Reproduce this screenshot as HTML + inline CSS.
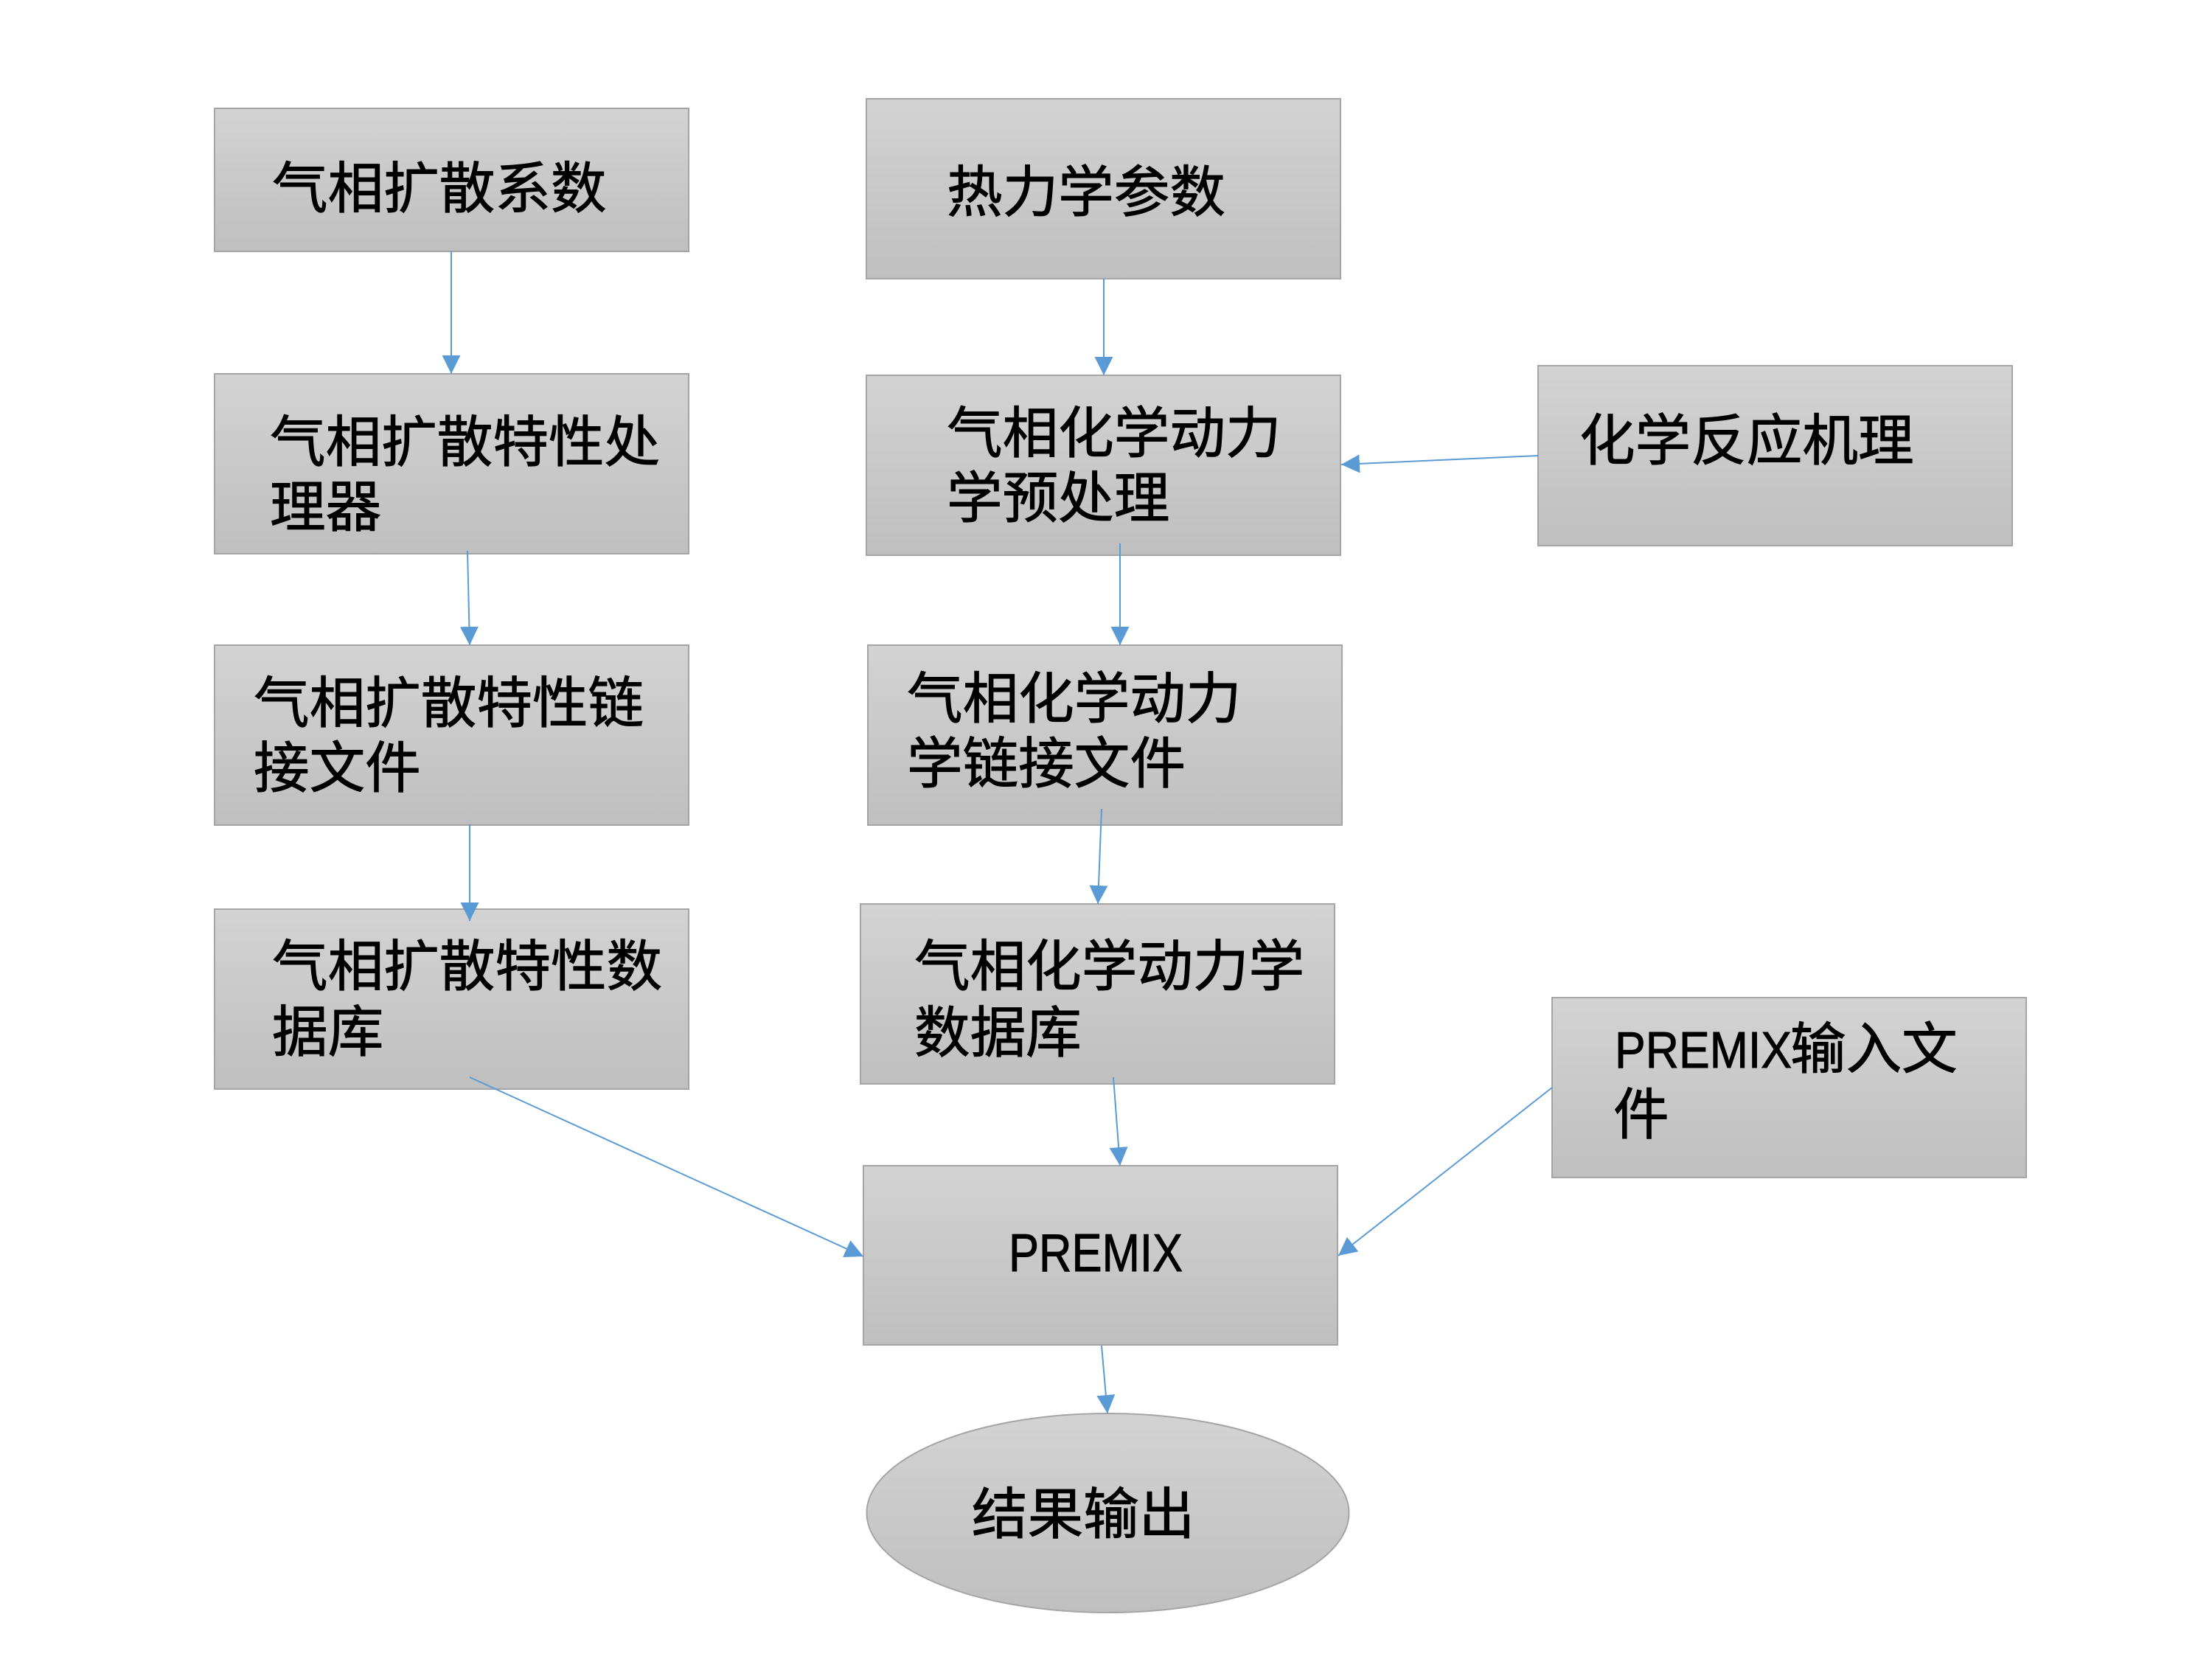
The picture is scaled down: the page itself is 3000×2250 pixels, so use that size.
<!DOCTYPE html>
<html lang="zh"><head><meta charset="utf-8"><style>
html,body{margin:0;padding:0;background:#fff}
svg{display:block}
text{font-family:"Liberation Sans","Noto Sans CJK SC",sans-serif;font-size:75.6px;fill:#000;stroke:#000;stroke-width:1}
.s{fill:url(#g);stroke:#a5a5a5;stroke-width:2}
.l{stroke:#5b9bd5;stroke-width:2;fill:none;marker-end:url(#a)}
</style></head><body>
<svg xmlns="http://www.w3.org/2000/svg" width="3000" height="2250" viewBox="0 0 3000 2250">
<defs>
<linearGradient id="g" x1="0" y1="0" x2="0" y2="1"><stop offset="0" stop-color="#d3d3d3"/><stop offset="1" stop-color="#bfbfbf"/></linearGradient>
<marker id="a" markerUnits="userSpaceOnUse" markerWidth="26" markerHeight="26" refX="25" refY="12.5" orient="auto"><path d="M0 0L25 12.5L0 25Z" fill="#5b9bd5"/></marker>
</defs>
<rect width="3000" height="2250" fill="#fff"/>
<rect class="s" x="291" y="147" width="643" height="194"/>
<rect class="s" x="1175" y="134" width="643" height="244"/>
<rect class="s" x="291" y="507" width="643" height="244"/>
<rect class="s" x="1175" y="509" width="643" height="244"/>
<rect class="s" x="2086" y="496" width="643" height="244"/>
<rect class="s" x="291" y="875" width="643" height="244"/>
<rect class="s" x="1177" y="875" width="643" height="244"/>
<rect class="s" x="291" y="1233" width="643" height="244"/>
<rect class="s" x="1167" y="1226" width="643" height="244"/>
<rect class="s" x="2105" y="1353" width="643" height="244"/>
<rect class="s" x="1171" y="1581" width="643" height="243"/>
<ellipse class="s" cx="1502.5" cy="2052" rx="327" ry="135"/>
<line class="l" x1="612" y1="341" x2="612" y2="507"/>
<line class="l" x1="1497" y1="378" x2="1497" y2="509"/>
<line class="l" x1="634" y1="747" x2="637" y2="875"/>
<line class="l" x1="1519" y1="737" x2="1519" y2="875"/>
<line class="l" x1="2086" y1="618" x2="1819" y2="630"/>
<line class="l" x1="637" y1="1118" x2="637" y2="1249"/>
<line class="l" x1="1494" y1="1097" x2="1489" y2="1226"/>
<line class="l" x1="637" y1="1461" x2="1171" y2="1704"/>
<line class="l" x1="1510" y1="1461" x2="1519" y2="1581"/>
<line class="l" x1="2105" y1="1475" x2="1815" y2="1703"/>
<line class="l" x1="1494" y1="1825" x2="1502" y2="1917"/>
<text x="369" y="282">气相扩散系数</text>
<text x="1284" y="287">热力学参数</text>
<text x="366" y="626">气相扩散特性处</text>
<text x="366" y="714">理器</text>
<text x="1284" y="614">气相化学动力</text>
<text x="1284" y="702">学预处理</text>
<text x="2142" y="624">化学反应机理</text>
<text x="344" y="980">气相扩散特性链</text>
<text x="344" y="1068">接文件</text>
<text x="1230" y="974">气相化学动力</text>
<text x="1230" y="1062">学链接文件</text>
<text x="369" y="1337">气相扩散特性数</text>
<text x="369" y="1426">据库</text>
<text x="1240" y="1337">气相化学动力学</text>
<text x="1240" y="1427">数据库</text>
<text x="2190" y="1448" style="font-size:70px" textLength="240" lengthAdjust="spacingAndGlyphs">PREMIX</text>
<text x="2428" y="1449">输入文</text>
<text x="2188" y="1538">件</text>
<text x="1368" y="1724" style="font-size:72px" textLength="236" lengthAdjust="spacingAndGlyphs">PREMIX</text>
<text x="1318" y="2080">结果输出</text>
</svg>
</body></html>
